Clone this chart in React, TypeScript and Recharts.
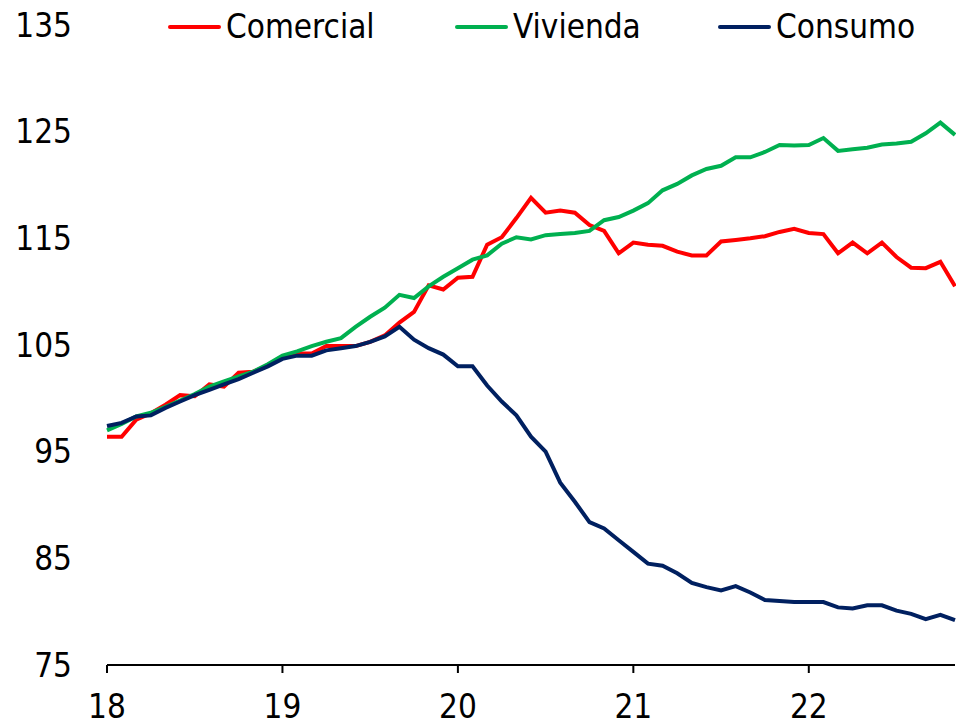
import { Legend, Line, LineChart, XAxis, YAxis } from "recharts";

// monthly index, Jan 2018 = 0 ... Nov 2022 = 58
const comercial = [
  96.4, 96.4, 98.0, 98.6, 99.4, 100.3, 100.2, 101.3, 101.1, 102.4, 102.5, 103.1,
  103.85, 104.2, 104.2, 104.9, 104.9, 104.9, 105.3, 105.9, 107.1, 108.1, 110.6, 110.2,
  111.3, 111.4, 114.4, 115.1, 116.9, 118.8, 117.4, 117.6, 117.4, 116.25, 115.7, 113.6,
  114.6, 114.4, 114.3, 113.75, 113.4, 113.4, 114.7, 114.85, 115.0, 115.2, 115.6, 115.9,
  115.5, 115.4, 113.6, 114.6, 113.6, 114.6, 113.25, 112.25, 112.2, 112.8, 110.5,
];

const vivienda = [
  97.0, 97.6, 98.3, 98.65, 99.2, 99.8, 100.4, 101.1, 101.6, 102.05, 102.5, 103.2,
  104.0, 104.4, 104.9, 105.3, 105.65, 106.7, 107.65, 108.5, 109.7, 109.4, 110.5, 111.4,
  112.2, 113.0, 113.4, 114.5, 115.1, 114.9, 115.3, 115.4, 115.5, 115.7, 116.7, 117.0,
  117.6, 118.3, 119.5, 120.1, 120.9, 121.5, 121.8, 122.6, 122.6, 123.1, 123.75, 123.7,
  123.75, 124.4, 123.2, 123.35, 123.5, 123.8, 123.9, 124.05, 124.85, 125.85, 124.7,
];

const consumo = [
  97.4, 97.7, 98.3, 98.4, 99.1, 99.7, 100.3, 100.8, 101.3, 101.8, 102.4, 103.0,
  103.7, 104.0, 104.0, 104.5, 104.7, 104.9, 105.3, 105.8, 106.7, 105.5, 104.7, 104.1,
  103.0, 103.0, 101.2, 99.7, 98.4, 96.4, 95.0, 92.1, 90.3, 88.4, 87.8, 86.7,
  85.6, 84.5, 84.3, 83.6, 82.7, 82.3, 82.0, 82.4, 81.8, 81.1, 81.0, 80.9,
  80.9, 80.9, 80.4, 80.3, 80.6, 80.6, 80.1, 79.8, 79.3, 79.7, 79.2,
];

const yearTicks = [0, 12, 24, 36, 48];
const yearLabels = ["18", "19", "20", "21", "22"];
const yTicks = [75, 85, 95, 105, 115, 125, 135];

const series = [
  { key: "comercial", name: "Comercial", color: "#ff0000" },
  { key: "vivienda", name: "Vivienda", color: "#00b050" },
  { key: "consumo", name: "Consumo", color: "#002060" },
];

const data = comercial.map((c, i) => ({
  m: i,
  comercial: c,
  vivienda: vivienda[i],
  consumo: consumo[i],
}));

const FONT = "'Liberation Sans Narrow', 'DejaVu Sans Condensed', sans-serif";
const legendLeft = [0, 287, 550];

function ChartLegend() {
  return (
    <div style={{ position: "relative", height: 40, fontFamily: FONT, fontSize: 33, color: "#000" }}>
      {series.map((s, i) => (
        <div key={s.key} style={{ position: "absolute", left: legendLeft[i], top: 0, display: "flex", alignItems: "center" }}>
          <span style={{ display: "inline-block", width: 53, height: 4, borderRadius: 2, background: s.color, marginRight: 5 }} />
          <span>{s.name}</span>
        </div>
      ))}
    </div>
  );
}

export default function App() {
  return (
    <div style={{ position: "absolute", left: 0, top: 0, width: 956, height: 728, background: "#fff" }}>
      <LineChart width={956} height={728} data={data} margin={{ top: 25, right: 1, left: 27, bottom: 0 }}>
        <XAxis
          dataKey="m"
          type="number"
          domain={[0, 58]}
          ticks={yearTicks}
          tickFormatter={(v) => yearLabels[yearTicks.indexOf(v)]}
          axisLine={{ stroke: "#000", strokeWidth: 2 }}
          tickLine={{ stroke: "#000", strokeWidth: 2 }}
          tickSize={8}
          tickMargin={22}
          height={63}
          tick={{ fill: "#000", fontSize: 33, fontFamily: FONT }}
        />
        <YAxis
          domain={[75, 135]}
          ticks={yTicks}
          axisLine={false}
          tickLine={false}
          width={80}
          tickMargin={29}
          tick={{ fill: "#000", fontSize: 33, fontFamily: FONT }}
        />
        <Legend
          layout="horizontal"
          verticalAlign="middle"
          align="center"
          wrapperStyle={{ top: 7, left: 168, width: 780 }}
          content={() => <ChartLegend />}
        />
        {series.map((s) => (
          <Line
            key={s.key}
            dataKey={s.key}
            name={s.name}
            stroke={s.color}
            strokeWidth={4}
            dot={false}
            type="linear"
            isAnimationActive={false}
          />
        ))}
      </LineChart>
    </div>
  );
}
